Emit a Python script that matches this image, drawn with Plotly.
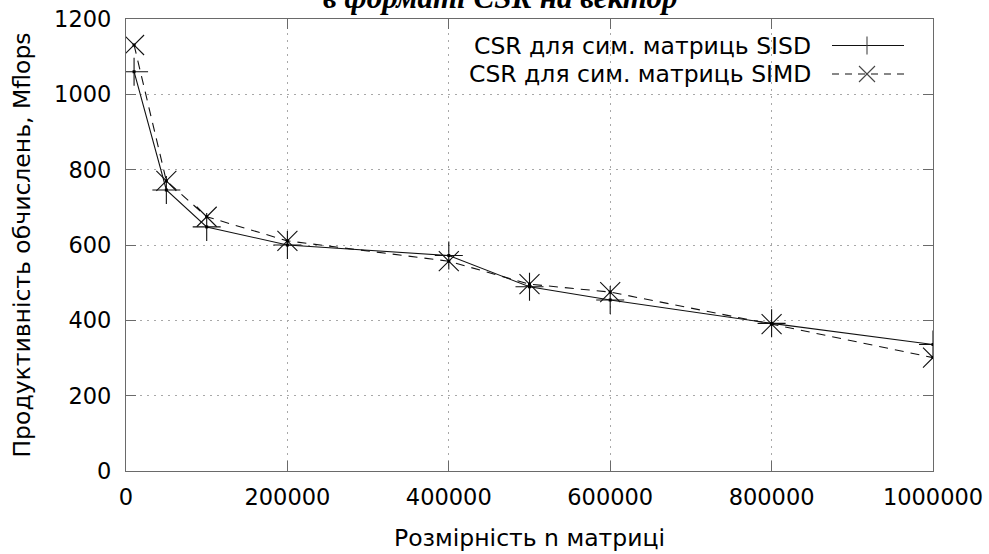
import plotly.graph_objects as go

# ---- data ----
n_sizes = [10000, 50000, 100000, 200000, 400000, 500000, 600000, 800000, 1000000]
sisd = [1060, 746, 648, 600, 572, 489, 454, 392, 336]
simd = [1131, 770, 675, 611, 557, 496, 475, 390, 301]
x_ticks = [0, 200000, 400000, 600000, 800000, 1000000]
y_ticks = [0, 200, 400, 600, 800, 1000, 1200]
name_sisd = "CSR для сим. матриць SISD"
name_simd = "CSR для сим. матриць SIMD"
title_text = "в форматі CSR на вектор"
x_title = "Розмірність n матриці"
y_title = "Продуктивність обчислень, Mflops"

W, H = 989, 554
L, R, T, B = 126, 56, 19, 83
PW, PH = W - L - R, H - T - B

def px(x):
    return (x - L) / PW

def py(y):
    return (H - B - y) / PH

fig = go.Figure()
fig.add_trace(go.Scatter(
    x=n_sizes, y=sisd, mode="lines+markers", name=name_sisd,
    line=dict(color="#111111", width=1.1),
    marker=dict(symbol="cross-thin-open", size=20, line=dict(color="#444444", width=1.1)),
    showlegend=False))
fig.add_trace(go.Scatter(
    x=n_sizes, y=simd, mode="lines+markers", name=name_simd,
    line=dict(color="#111111", width=1.1, dash="9px,7px"),
    marker=dict(symbol="x-thin-open", size=20, line=dict(color="#444444", width=1.1)),
    showlegend=False))
# small center dots like gnuplot points
for ys in (sisd, simd):
    fig.add_trace(go.Scatter(x=n_sizes, y=ys, mode="markers", showlegend=False,
                             marker=dict(symbol="square", size=3, color="#000000"),
                             hoverinfo="skip"))

font = "DejaVu Sans"
axis_common = dict(
    showline=True, linecolor="#6a6a6a", linewidth=1.3, mirror="allticks",
    ticks="inside", ticklen=10, tickcolor="#6a6a6a", tickwidth=1.2,
    showgrid=True, gridcolor="#a8a8a8", griddash="2px,5px", gridwidth=1,
    zeroline=False, automargin=False,
    tickfont=dict(family=font, size=22.5, color="#000000"),
)
fig.update_xaxes(range=[0, 1000000], tickvals=x_ticks, tickformat="d", ticklabelstandoff=6,
                 title=dict(text=x_title, font=dict(family=font, size=23.5, color="#000000"), standoff=20),
                 **axis_common)
fig.update_yaxes(range=[0, 1200], tickvals=y_ticks, tickformat="d", ticklabelstandoff=9,
                 title=dict(text=y_title, font=dict(family=font, size=23.5, color="#000000"), standoff=16),
                 **axis_common)

ann = [dict(text="<b><i>" + title_text + "</i></b>", xref="paper", yref="paper",
            x=px(500), y=py(17), xanchor="center", yanchor="bottom", showarrow=False,
            font=dict(family="Liberation Serif", size=31, color="#000000"))]
shapes = []
rows = [(name_sisd, 45.5, "solid", "plus"), (name_simd, 74, "dash", "x")]
for name, yy, dash, mk in rows:
    ann.append(dict(text=name, xref="paper", yref="paper", x=px(813), y=py(yy),
                    xanchor="right", yanchor="middle", showarrow=False,
                    font=dict(family=font, size=23.5, color="#000000")))
    shapes.append(dict(type="line", xref="paper", yref="paper", x0=px(832), x1=px(904),
                       y0=py(yy), y1=py(yy), line=dict(color="#111111", width=1.1,
                       dash="solid" if dash == "solid" else "7px,6px")))
    cx = 867
    if mk == "plus":
        shapes.append(dict(type="line", xref="paper", yref="paper", x0=px(cx), x1=px(cx),
                           y0=py(yy - 9), y1=py(yy + 9), line=dict(color="#444444", width=1.1)))
    else:
        for s in (-1, 1):
            shapes.append(dict(type="line", xref="paper", yref="paper", x0=px(cx - 8), x1=px(cx + 8),
                               y0=py(yy - 8 * s), y1=py(yy + 8 * s), line=dict(color="#444444", width=1.1)))

fig.update_layout(width=W, height=H, margin=dict(l=L, r=R, t=T, b=B, autoexpand=False),
                  paper_bgcolor="white", plot_bgcolor="white",
                  annotations=ann, shapes=shapes, showlegend=False)
fig.write_html("out.html")
